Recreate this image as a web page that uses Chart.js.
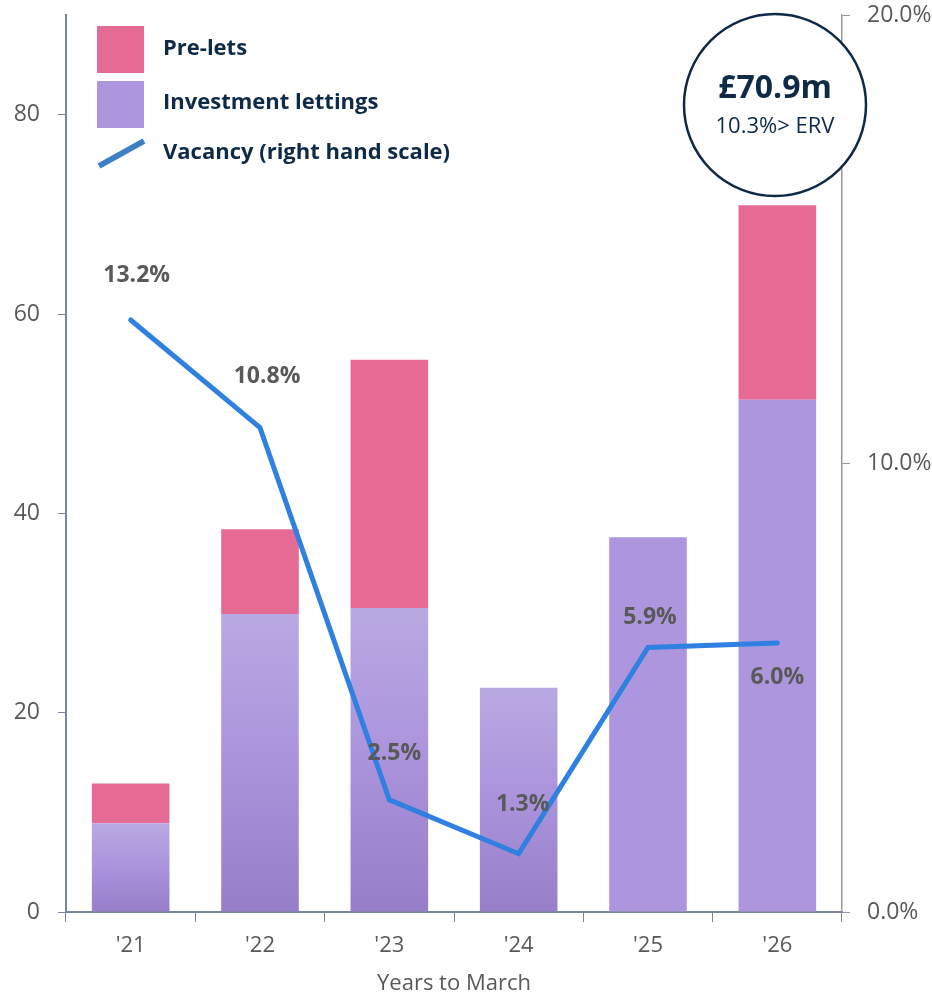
<!DOCTYPE html>
<html>
<head>
<meta charset="utf-8">
<script src="https://cdn.jsdelivr.net/npm/chart.js@4.4.1/dist/chart.umd.min.js"></script>
<style>
  html, body { margin: 0; padding: 0; background: #fff; }
  #wrap { width: 932px; height: 997px; position: relative; }
</style>
</head>
<body>
<div id="wrap"><canvas id="c" width="932" height="997"></canvas></div>
<script>
const categories = ["'21", "'22", "'23", "'24", "'25", "'26"];
const investmentLettings = [8.9, 29.9, 30.5, 22.5, 37.6, 51.4];
const preLets = [4.0, 8.5, 24.9, 0, 0, 19.5];
const vacancy = [13.2, 10.8, 2.5, 1.3, 5.9, 6.0];
const vacancyLabels = ["13.2%", "10.8%", "2.5%", "1.3%", "5.9%", "6.0%"];
const leftTicks = [0, 20, 40, 60, 80];
const rightTicks = [0, 10, 20];
const headline = "£70.9m";
const subline = "10.3%> ERV";
const xTitle = "Years to March";

const FONT = "'Open Sans', Lato, sans-serif";
const NAVY = "#0e2a47";
const GREY = "#595959";
const AXIS = "#7a8599";

function investColor(ctx) {
  const chart = ctx.chart;
  const i = ctx.dataIndex;
  if (i >= 4 || !chart.chartArea) return "#ad96dd";
  const y = chart.scales.y;
  const top = y.getPixelForValue(investmentLettings[i]);
  const bot = y.getPixelForValue(0);
  const g = chart.ctx.createLinearGradient(0, top, 0, bot);
  g.addColorStop(0, "#b9a9e2");
  g.addColorStop(0.5, "#ab93dc");
  g.addColorStop(1, "#977ec8");
  return g;
}

// offsets of vacancy labels relative to their points (px), styling only
const labelOffsets = [[6, -45], [7, -51], [5, -46], [4, -49], [2, -30], [0, 35]];

const overlay = {
  id: 'overlay',
  afterDraw(chart) {
    const c = chart.ctx;
    c.save();
    const meta = chart.getDatasetMeta(2);
    c.font = "bold 23px " + FONT;
    c.fillStyle = GREY;
    c.textAlign = "center";
    c.textBaseline = "middle";
    meta.data.forEach((pt, i) => {
      const o = labelOffsets[i];
      c.fillText(vacancyLabels[i], pt.x + o[0], pt.y + o[1]);
    });

    // legend
    c.fillStyle = "#e56b94";
    c.fillRect(97, 26, 47, 47);
    c.fillStyle = "#ad96dd";
    c.fillRect(97, 81, 47, 47);
    c.strokeStyle = "#3f7fc6";
    c.lineWidth = 6;
    c.lineCap = "butt";
    c.beginPath();
    c.moveTo(99, 166);
    c.lineTo(144, 141);
    c.stroke();
    c.fillStyle = NAVY;
    c.font = "bold 22px " + FONT;
    c.textAlign = "left";
    c.textBaseline = "middle";
    c.fillText(chart.data.datasets[1].label, 163, 49);
    c.fillText(chart.data.datasets[0].label, 163, 103);
    c.fillText(chart.data.datasets[2].label, 163, 153);

    // circle callout
    c.beginPath();
    c.arc(775, 105, 91, 0, Math.PI * 2);
    c.fillStyle = "#fff";
    c.fill();
    c.lineWidth = 2.5;
    c.strokeStyle = NAVY;
    c.stroke();
    c.fillStyle = NAVY;
    c.textAlign = "center";
    c.font = "bold 32px " + FONT;
    c.fillText(headline, 775, 89);
    c.font = "22px " + FONT;
    c.fillText(subline, 775, 127);
    c.restore();
  }
};

function noPadV(s) { s.paddingTop = 0; s.paddingBottom = 0; }

new Chart(document.getElementById('c'), {
  type: 'bar',
  data: {
    labels: categories,
    datasets: [
      { label: "Investment lettings", data: investmentLettings, backgroundColor: investColor,
        stack: 's', yAxisID: 'y', order: 2, barPercentage: 0.6, categoryPercentage: 1.0 },
      { label: "Pre-lets", data: preLets, backgroundColor: "#e56b94",
        stack: 's', yAxisID: 'y', order: 2, barPercentage: 0.6, categoryPercentage: 1.0 },
      { type: 'line', label: "Vacancy (right hand scale)", data: vacancy, yAxisID: 'y1',
        borderColor: "#2f80e0", borderWidth: 5, pointRadius: 0, tension: 0, order: 1,
        borderCapStyle: 'round', borderJoinStyle: 'miter' }
    ]
  },
  options: {
    responsive: false,
    animation: false,
    layout: { padding: { top: 15, left: 0, right: 0, bottom: 0 } },
    plugins: { legend: { display: false }, tooltip: { enabled: false } },
    scales: {
      x: {
        stacked: true,
        grid: { display: true, drawOnChartArea: false, drawTicks: true, tickLength: 10, color: AXIS, offset: true },
        border: { display: true, color: AXIS, width: 2 },
        ticks: { color: GREY, font: { family: FONT, size: 22 }, padding: 11 },
        title: { display: true, text: xTitle, color: GREY, font: { family: FONT, size: 22 }, padding: { top: 4, bottom: 0 } },
        afterFit(s) { s.height = 85; s.paddingLeft = 0; s.paddingRight = 0; }
      },
      y: {
        stacked: true, position: 'left', min: 0, max: 90,
        afterBuildTicks(s) { s.ticks = leftTicks.map(v => ({ value: v })); },
        grid: { display: true, drawOnChartArea: false, drawTicks: true, tickLength: 8, color: AXIS },
        border: { display: true, color: AXIS, width: 2 },
        ticks: { color: GREY, font: { family: FONT, size: 23 }, padding: 18 },
        afterFit(s) { s.width = 66; noPadV(s); }
      },
      y1: {
        position: 'right', min: 0, max: 20,
        afterBuildTicks(s) { s.ticks = rightTicks.map(v => ({ value: v })); },
        grid: { display: true, drawOnChartArea: false, drawTicks: true, tickLength: 8, color: "#999999" },
        border: { display: true, color: "#999999", width: 1.5 },
        ticks: { color: GREY, font: { family: FONT, size: 23 }, padding: 17,
                 callback: v => v.toFixed(1) + "%" },
        afterFit(s) { s.width = 90; noPadV(s); }
      }
    }
  },
  plugins: [overlay]
});
</script>
</body>
</html>
